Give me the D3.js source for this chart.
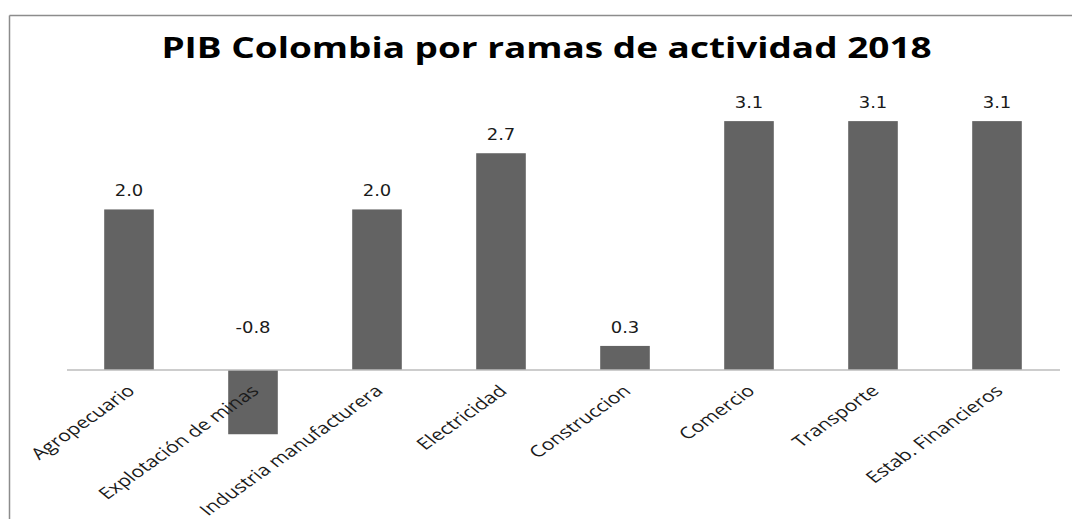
<!DOCTYPE html>
<html><head><meta charset="utf-8">
<script src="https://cdn.jsdelivr.net/npm/d3@7"></script>
<style>body{margin:0;background:#fff}</style>
</head><body>
<svg id="c" width="1072" height="519"></svg>
<script>
const categories = ["Agropecuario","Explotación de minas","Industria manufacturera","Electricidad","Construccion","Comercio","Transporte","Estab. Financieros"];
const values = [2.0,-0.8,2.0,2.7,0.3,3.1,3.1,3.1];
const valueLabels = ["2.0","-0.8","2.0","2.7","0.3","3.1","3.1","3.1"];
const title = "PIB Colombia por ramas de actividad 2018";

const SX = 1.32; // horizontal stretch of the reference picture
const svg = d3.select("#c");
// frame (top and left borders)
svg.append("line").attr("x1",9.5).attr("x2",1072).attr("y1",15.5).attr("y2",15.5).attr("stroke","#8c8c8c").attr("stroke-width",1.5);
svg.append("line").attr("x1",9.5).attr("x2",9.5).attr("y1",15.5).attr("y2",519).attr("stroke","#8c8c8c").attr("stroke-width",1.5);

svg.append("text").attr("transform",`translate(546.5,58) scale(${SX},1)`).attr("text-anchor","middle")
  .attr("font-family","Open Sans").attr("font-weight","bold").attr("font-size",28).attr("fill","#000")
  .text(title);

const x = d3.scaleBand().domain(categories).range([67,1059]).paddingInner(0.6).paddingOuter(0.3);
const y = d3.scaleLinear().domain([-1,3.5]).range([450.3,89]);

svg.selectAll("rect.bar").data(values).join("rect").attr("class","bar")
  .attr("x",(d,i)=>x(categories[i]))
  .attr("width",x.bandwidth())
  .attr("y",d=>y(Math.max(0,d)))
  .attr("height",d=>Math.abs(y(d)-y(0)))
  .attr("fill","#636363");

svg.append("line").attr("x1",67).attr("x2",1060).attr("y1",y(0)).attr("y2",y(0)).attr("stroke","#bdbdbd").attr("stroke-width",1.5);

svg.selectAll("text.vl").data(values).join("text").attr("class","vl")
  .attr("transform",(d,i)=>`translate(${x(categories[i])+x.bandwidth()/2},${d>=0 ? y(d)-13 : y(0)-37}) scale(1.2,1)`)
  .attr("text-anchor","middle")
  .attr("font-family","DejaVu Sans").attr("font-size",15).attr("fill","#1a1a1a")
  .text((d,i)=>valueLabels[i]);

svg.selectAll("text.cat").data(categories).join("text").attr("class","cat")
  .attr("transform",d=>`translate(${x(d)+x.bandwidth()/2-3},${y(0)+14}) scale(${SX},1) rotate(-43)`)
  .attr("text-anchor","end").attr("dy","0.7em")
  .attr("font-family","Open Sans").attr("font-size",16).attr("fill","#1a1a1a")
  .text(d=>d);
</script>
</body></html>
